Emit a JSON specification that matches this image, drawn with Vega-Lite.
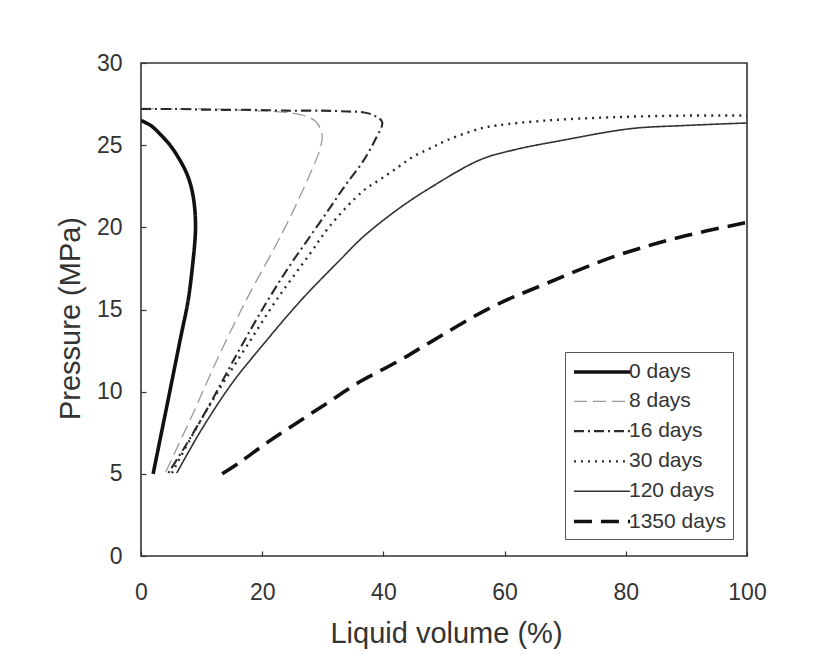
{
  "$schema": "https://vega.github.io/schema/vega-lite/v6.json",
  "width": 606,
  "height": 493,
  "autosize": {"type": "none"},
  "padding": {"left": 141, "top": 63, "right": 89, "bottom": 110},
  "background": "white",
  "config": {
    "font": "Liberation Sans",
    "view": {"stroke": "#333", "strokeWidth": 1.6},
    "axis": {
      "grid": false,
      "domain": false,
      "labelFlush": false,
      "tickSize": -5,
      "tickColor": "#333",
      "tickWidth": 1.2,
      "labelFont": "Liberation Sans",
      "labelFontSize": 23,
      "labelColor": "#333",
      "titleFont": "Liberation Sans",
      "titleFontSize": 29,
      "titleFontWeight": "normal",
      "titleColor": "#333"
    }
  },
  "data": {
    "values": [
      {"s": "0 days", "i": 1, "v": 0, "p": 26.5},
      {"s": "0 days", "i": 2, "v": 1.6, "p": 26.2},
      {"s": "0 days", "i": 3, "v": 3.6, "p": 25.5},
      {"s": "0 days", "i": 4, "v": 5, "p": 24.9},
      {"s": "0 days", "i": 5, "v": 6.4, "p": 24.1},
      {"s": "0 days", "i": 6, "v": 7.4, "p": 23.4},
      {"s": "0 days", "i": 7, "v": 8.1, "p": 22.7},
      {"s": "0 days", "i": 8, "v": 8.6, "p": 21.9},
      {"s": "0 days", "i": 9, "v": 8.9, "p": 21},
      {"s": "0 days", "i": 10, "v": 9, "p": 20},
      {"s": "0 days", "i": 11, "v": 8.9, "p": 19.2},
      {"s": "0 days", "i": 12, "v": 8.6, "p": 18},
      {"s": "0 days", "i": 13, "v": 7.8, "p": 15.6},
      {"s": "0 days", "i": 14, "v": 6.6, "p": 13.4},
      {"s": "0 days", "i": 15, "v": 5.4, "p": 11.2},
      {"s": "0 days", "i": 16, "v": 4.2, "p": 9},
      {"s": "0 days", "i": 17, "v": 3.1, "p": 7},
      {"s": "0 days", "i": 18, "v": 2, "p": 5},

      {"s": "8 days", "i": 1, "v": 0, "p": 27.25},
      {"s": "8 days", "i": 2, "v": 6, "p": 27.2},
      {"s": "8 days", "i": 3, "v": 12, "p": 27.2},
      {"s": "8 days", "i": 4, "v": 18, "p": 27.1},
      {"s": "8 days", "i": 5, "v": 22, "p": 27.05},
      {"s": "8 days", "i": 6, "v": 25, "p": 26.95},
      {"s": "8 days", "i": 7, "v": 27.3, "p": 26.75},
      {"s": "8 days", "i": 8, "v": 28.8, "p": 26.45},
      {"s": "8 days", "i": 9, "v": 29.6, "p": 26},
      {"s": "8 days", "i": 10, "v": 29.9, "p": 25.5},
      {"s": "8 days", "i": 11, "v": 29.4, "p": 24.6},
      {"s": "8 days", "i": 12, "v": 28.2, "p": 23.5},
      {"s": "8 days", "i": 13, "v": 26.5, "p": 22.1},
      {"s": "8 days", "i": 14, "v": 24.6, "p": 20.6},
      {"s": "8 days", "i": 15, "v": 21.8, "p": 18.6},
      {"s": "8 days", "i": 16, "v": 17.4, "p": 15.6},
      {"s": "8 days", "i": 17, "v": 13, "p": 12.3},
      {"s": "8 days", "i": 18, "v": 8.5, "p": 8.6},
      {"s": "8 days", "i": 19, "v": 4, "p": 5.05},

      {"s": "16 days", "i": 1, "v": 0, "p": 27.2},
      {"s": "16 days", "i": 2, "v": 6, "p": 27.2},
      {"s": "16 days", "i": 3, "v": 12, "p": 27.15},
      {"s": "16 days", "i": 4, "v": 18, "p": 27.15},
      {"s": "16 days", "i": 5, "v": 24, "p": 27.1},
      {"s": "16 days", "i": 6, "v": 30, "p": 27.1},
      {"s": "16 days", "i": 7, "v": 34, "p": 27.05},
      {"s": "16 days", "i": 8, "v": 36.6, "p": 27},
      {"s": "16 days", "i": 9, "v": 38.5, "p": 26.8},
      {"s": "16 days", "i": 10, "v": 39.8, "p": 26.4},
      {"s": "16 days", "i": 11, "v": 38.6, "p": 25.3},
      {"s": "16 days", "i": 12, "v": 36.6, "p": 24},
      {"s": "16 days", "i": 13, "v": 33.8, "p": 22.6},
      {"s": "16 days", "i": 14, "v": 31.2, "p": 21.2},
      {"s": "16 days", "i": 15, "v": 28, "p": 19.5},
      {"s": "16 days", "i": 16, "v": 24.6, "p": 17.7},
      {"s": "16 days", "i": 17, "v": 20.5, "p": 15.3},
      {"s": "16 days", "i": 18, "v": 16, "p": 12.4},
      {"s": "16 days", "i": 19, "v": 11, "p": 9},
      {"s": "16 days", "i": 20, "v": 7, "p": 6.5},
      {"s": "16 days", "i": 21, "v": 4.5, "p": 5.05},

      {"s": "30 days", "i": 1, "v": 5.1, "p": 5.05},
      {"s": "30 days", "i": 2, "v": 9, "p": 7.7},
      {"s": "30 days", "i": 3, "v": 13, "p": 10.2},
      {"s": "30 days", "i": 4, "v": 17.5, "p": 12.8},
      {"s": "30 days", "i": 5, "v": 22.4, "p": 15.6},
      {"s": "30 days", "i": 6, "v": 27.9, "p": 18.4},
      {"s": "30 days", "i": 7, "v": 31.2, "p": 20.1},
      {"s": "30 days", "i": 8, "v": 36.6, "p": 22.2},
      {"s": "30 days", "i": 9, "v": 39.4, "p": 22.9},
      {"s": "30 days", "i": 10, "v": 42.2, "p": 23.6},
      {"s": "30 days", "i": 11, "v": 44.9, "p": 24.3},
      {"s": "30 days", "i": 12, "v": 47.7, "p": 24.8},
      {"s": "30 days", "i": 13, "v": 50.5, "p": 25.3},
      {"s": "30 days", "i": 14, "v": 55.9, "p": 26},
      {"s": "30 days", "i": 15, "v": 58.7, "p": 26.2},
      {"s": "30 days", "i": 16, "v": 67, "p": 26.5},
      {"s": "30 days", "i": 17, "v": 77.9, "p": 26.7},
      {"s": "30 days", "i": 18, "v": 90, "p": 26.8},
      {"s": "30 days", "i": 19, "v": 100, "p": 26.8},

      {"s": "120 days", "i": 1, "v": 5.9, "p": 5.05},
      {"s": "120 days", "i": 2, "v": 10, "p": 7.7},
      {"s": "120 days", "i": 3, "v": 15, "p": 10.5},
      {"s": "120 days", "i": 4, "v": 20, "p": 12.8},
      {"s": "120 days", "i": 5, "v": 26.5, "p": 15.6},
      {"s": "120 days", "i": 6, "v": 32.8, "p": 18},
      {"s": "120 days", "i": 7, "v": 36.6, "p": 19.4},
      {"s": "120 days", "i": 8, "v": 42.2, "p": 21.05},
      {"s": "120 days", "i": 9, "v": 47.7, "p": 22.4},
      {"s": "120 days", "i": 10, "v": 55.9, "p": 24.1},
      {"s": "120 days", "i": 11, "v": 61.4, "p": 24.7},
      {"s": "120 days", "i": 12, "v": 69.6, "p": 25.3},
      {"s": "120 days", "i": 13, "v": 80.7, "p": 26},
      {"s": "120 days", "i": 14, "v": 90, "p": 26.2},
      {"s": "120 days", "i": 15, "v": 100, "p": 26.35},

      {"s": "1350 days", "i": 1, "v": 13.4, "p": 5},
      {"s": "1350 days", "i": 2, "v": 16.3, "p": 5.7},
      {"s": "1350 days", "i": 3, "v": 20.8, "p": 6.9},
      {"s": "1350 days", "i": 4, "v": 25.7, "p": 8.1},
      {"s": "1350 days", "i": 5, "v": 30.7, "p": 9.3},
      {"s": "1350 days", "i": 6, "v": 36.1, "p": 10.6},
      {"s": "1350 days", "i": 7, "v": 42.2, "p": 11.8},
      {"s": "1350 days", "i": 8, "v": 47.7, "p": 13},
      {"s": "1350 days", "i": 9, "v": 57.6, "p": 15.1},
      {"s": "1350 days", "i": 10, "v": 67, "p": 16.6},
      {"s": "1350 days", "i": 11, "v": 77.9, "p": 18.2},
      {"s": "1350 days", "i": 12, "v": 88.9, "p": 19.4},
      {"s": "1350 days", "i": 13, "v": 100, "p": 20.3}
    ]
  },
  "mark": {"type": "line", "interpolate": "catmull-rom", "strokeCap": "butt", "clip": true},
  "encoding": {
    "x": {
      "field": "v",
      "type": "quantitative",
      "scale": {"domain": [0, 100], "nice": false},
      "axis": {
        "title": "Liquid volume (%)",
        "values": [0, 20, 40, 60, 80, 100],
        "labelPadding": 30,
        "titleX": 305,
        "titleY": 77,
        "titleBaseline": "middle",
        "titleAlign": "center"
      }
    },
    "y": {
      "field": "p",
      "type": "quantitative",
      "scale": {"domain": [0, 30], "nice": false},
      "axis": {
        "title": "Pressure (MPa)",
        "values": [0, 5, 10, 15, 20, 25, 30],
        "labelPadding": 24,
        "titleX": -71,
        "titleY": 255,
        "titleAngle": -90,
        "titleBaseline": "middle",
        "titleAlign": "center"
      }
    },
    "order": {"field": "i", "type": "quantitative"},
    "color": {
      "field": "s",
      "type": "nominal",
      "scale": {
        "domain": ["0 days", "8 days", "16 days", "30 days", "120 days", "1350 days"],
        "range": ["#111111", "#9a9a9a", "#2a2a2a", "#2a2a2a", "#333333", "#111111"]
      },
      "legend": {
        "title": null,
        "orient": "none",
        "legendX": 424,
        "legendY": 289,
        "symbolType": "M-2.55,0H2.55",
        "symbolSize": 484,
        "symbolOffset": 17,
        "labelOffset": 14,
        "labelFont": "Liberation Sans",
        "labelFontSize": 21,
        "labelColor": "#333",
        "padding": 7,
        "rowPadding": 7.3,
        "strokeColor": "#555",
        "fillColor": "white"
      }
    },
    "strokeDash": {
      "field": "s",
      "type": "nominal",
      "scale": {
        "domain": ["0 days", "8 days", "16 days", "30 days", "120 days", "1350 days"],
        "range": [[1, 0], [13, 6], [10, 4, 2, 4], [2, 5], [1, 0], [18, 9]]
      },
      "legend": {"title": null}
    },
    "strokeWidth": {
      "field": "s",
      "type": "nominal",
      "scale": {
        "type": "ordinal",
        "domain": ["0 days", "8 days", "16 days", "30 days", "120 days", "1350 days"],
        "range": [3.6, 1.3, 2.1, 2.4, 1.6, 3.6]
      },
      "legend": {"title": null}
    }
  }
}
